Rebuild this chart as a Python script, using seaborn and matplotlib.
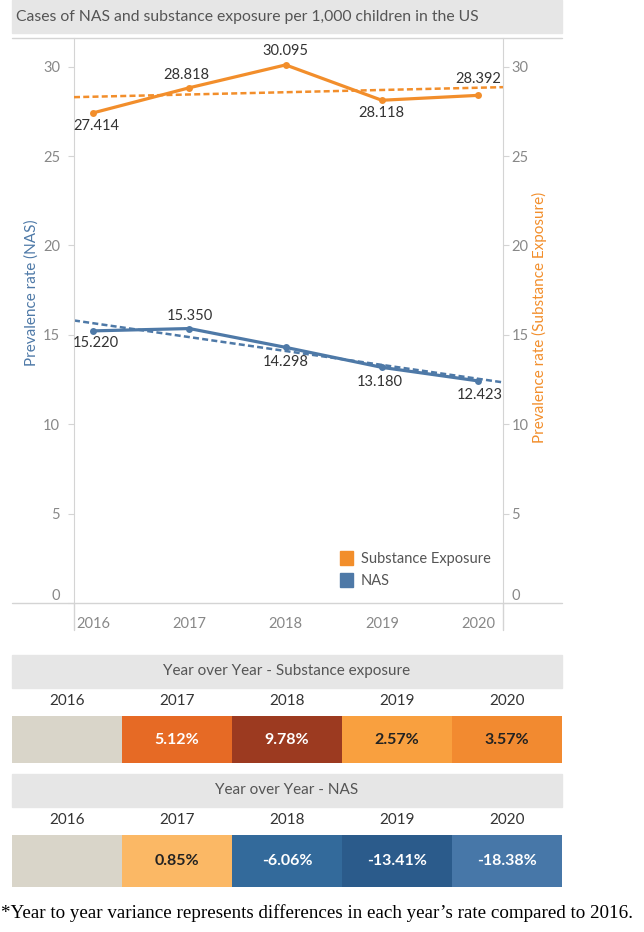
import numpy as np
import pandas as pd
import matplotlib
matplotlib.use("Agg")
import matplotlib.pyplot as plt
from matplotlib.colors import ListedColormap
from matplotlib.patches import Patch, Rectangle
from matplotlib.lines import Line2D
import seaborn as sns

#%% data
years = [2016, 2017, 2018, 2019, 2020]
subst_rate = [27.414, 28.818, 30.095, 28.118, 28.392]
nas_rate = [15.220, 15.350, 14.298, 13.180, 12.423]

yoy_subst = ["", "5.12%", "9.78%", "2.57%", "3.57%"]
yoy_nas = ["", "0.85%", "-6.06%", "-13.41%", "-18.38%"]
subst_cells = ["#d9d5c9", "#e66a25", "#9c3a20", "#f9a03f", "#f28a30"]
nas_cells = ["#d9d5c9", "#fbb865", "#336a9b", "#2b5b8b", "#4777a8"]
subst_txt = ["k", "white", "white", "#222222", "#222222"]
nas_txt = ["k", "#222222", "white", "white", "white"]

# label offsets (pixels) for the point labels
subst_off = [(3, -13), (-3, 13), (0, 14), (0, -13), (0, 16)]
nas_off = [(3, -12), (0, 13), (0, -15), (-2, -15), (2, -14)]

#%% style
sns.set_style("white")
plt.rcParams["font.family"] = ["Lato", "DejaVu Sans"]
ORANGE = "#f28e2b"
BLUE = "#4e79a7"
GRID = "#d4d4d4"
TICK = "#888888"

W, H = 644, 932
fig = plt.figure(figsize=(W / 100, H / 100), dpi=100)


def rect(x0, y0, x1, y1):
    return [x0 / W, 1 - y1 / H, (x1 - x0) / W, (y1 - y0) / H]


def band(x0, y0, x1, y1, text, tx=None, ha="center", size=11):
    fig.patches.append(Rectangle((x0 / W, 1 - y1 / H), (x1 - x0) / W, (y1 - y0) / H,
                                 transform=fig.transFigure, color="#e6e6e6", zorder=0))
    if tx is None:
        tx = (x0 + x1) / 2
    fig.text(tx / W, 1 - (y0 + y1) / 2 / H, text, ha=ha,
             va="center", color="#555555", fontsize=size)


def fline(xs, ys, color=GRID, lw=1):
    fig.add_artist(Line2D([x / W for x in xs], [1 - y / H for y in ys],
                          transform=fig.transFigure, color=color, lw=lw))


#%% top chart
band(12, 0, 562, 33, "Cases of NAS and substance exposure per 1,000 children in the US",
     tx=16, ha="left", size=11.3)
fline([12, 562], [38, 38])
fline([12, 562], [603, 603])
fline([74, 74], [603, 630])
fline([503, 503], [603, 630])

df = pd.DataFrame({"year": years, "subst": subst_rate, "nas": nas_rate})

ax = fig.add_axes(rect(74, 38, 503, 603))
ax2 = ax.twinx()
for a in (ax, ax2):
    a.set_xlim(2015.80, 2020.26)
    a.set_ylim(0, 31.6)

dash = (0, (2.4, 1.3))
sns.regplot(data=df, x="year", y="nas", ax=ax, scatter=False, ci=None, truncate=False,
            line_kws={"color": BLUE, "ls": dash, "lw": 1.8})
sns.lineplot(data=df, x="year", y="nas", ax=ax, color=BLUE, lw=2.3,
             marker="o", markersize=5, markeredgewidth=0)
sns.regplot(data=df, x="year", y="subst", ax=ax2, scatter=False, ci=None, truncate=False,
            line_kws={"color": ORANGE, "ls": dash, "lw": 1.8})
sns.lineplot(data=df, x="year", y="subst", ax=ax2, color=ORANGE, lw=2.3,
             marker="o", markersize=5, markeredgewidth=0)

for a in (ax, ax2):
    a.set_xlim(2015.80, 2020.26)
    a.set_ylim(0, 31.6)
    a.set_yticks([0, 5, 10, 15, 20, 25, 30])
    a.tick_params(axis="y", colors=GRID, labelcolor=TICK, labelsize=10.5, length=4, pad=6)
    for s in a.spines.values():
        s.set_visible(False)
    a.set_xlabel("")
ax2.tick_params(axis="y", pad=2)

ax.spines["left"].set_visible(True)
ax.spines["left"].set_color(GRID)
ax2.spines["right"].set_visible(True)
ax2.spines["right"].set_color(GRID)
ax.yaxis.get_majorticklabels()[0].set_va("bottom")
ax2.yaxis.get_majorticklabels()[0].set_va("bottom")

ax.set_xticks(years)
ax.tick_params(axis="x", length=0, labelcolor=TICK, labelsize=10.5, pad=10)
ax2.tick_params(axis="x", length=0)

ax.set_ylabel("Prevalence rate (NAS)", color=BLUE, fontsize=11)
ax.yaxis.set_label_coords(-0.082, 0.55)
ax2.set_ylabel("Prevalence rate (Substance Exposure)", color=ORANGE, fontsize=11)
ax2.yaxis.set_label_coords(1.068, 0.505)

for x, y, off in zip(years, nas_rate, nas_off):
    ax.annotate(f"{y:.3f}", (x, y), xytext=off, textcoords="offset pixels",
                ha="center", va="center", fontsize=10.5, color="#333333")
for x, y, off in zip(years, subst_rate, subst_off):
    ax2.annotate(f"{y:.3f}", (x, y), xytext=off, textcoords="offset pixels",
                 ha="center", va="center", fontsize=10.5, color="#333333")

handles = [Patch(color=ORANGE, label="Substance Exposure"), Patch(color=BLUE, label="NAS")]
ax2.legend(handles=handles, loc="upper left", bbox_to_anchor=(0.59, 0.115), frameon=False,
           handlelength=0.9, handleheight=1.1, handletextpad=0.5, labelspacing=0.5,
           fontsize=10.5, labelcolor="#555555")

#%% year over year tables
def yoy_table(y_band, y_row, title, labels, cells, txt):
    band(12, y_band, 562, y_band + 33, title)
    hm = fig.add_axes(rect(12, y_row[0], 562, y_row[1]))
    codes = np.arange(len(years)).reshape(1, -1)
    sns.heatmap(codes, ax=hm, cmap=ListedColormap(cells), cbar=False,
                annot=np.array([labels]), fmt="", xticklabels=years, yticklabels=False,
                annot_kws={"fontsize": 11.5, "fontweight": "bold"})
    for t, c in zip(hm.texts, txt):
        t.set_color(c)
    hm.xaxis.tick_top()
    hm.tick_params(axis="x", length=0, labelsize=11, labelcolor="#333333", pad=6)
    hm.set_xlabel("")
    hm.set_ylabel("")


yoy_table(655, (716, 763), "Year over Year - Substance exposure", yoy_subst, subst_cells, subst_txt)
yoy_table(774, (835, 887), "Year over Year - NAS", yoy_nas, nas_cells, nas_txt)

fig.text(1 / W, 1 - 913 / H,
         "*Year to year variance represents differences in each year\u2019s rate compared to 2016.",
         family="Liberation Serif", fontsize=13.7, va="center", ha="left", color="black")

fig.savefig("out.png", dpi=100)
